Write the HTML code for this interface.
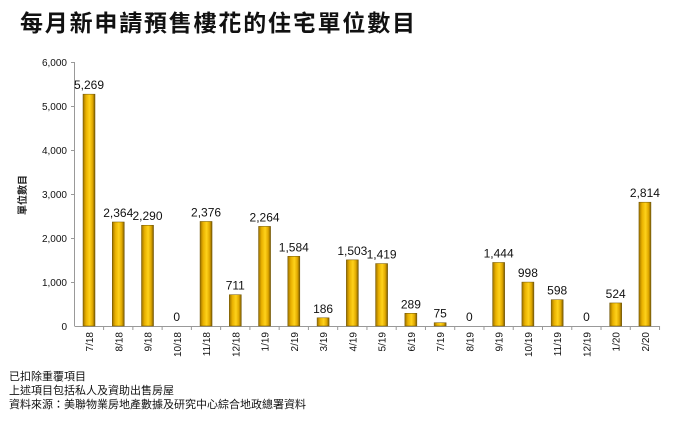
<!DOCTYPE html>
<html><head><meta charset="utf-8"><style>
body{margin:0;width:700px;height:426px;background:#fff;overflow:hidden}
svg text{font-family:"Liberation Sans","Noto Sans CJK TC",sans-serif}
</style></head><body>
<svg width="700" height="426" xmlns="http://www.w3.org/2000/svg">
<defs><linearGradient id="g" x1="0" x2="1" y1="0" y2="0">
<stop offset="0" stop-color="#9a7000"/><stop offset="0.25" stop-color="#e8b000"/><stop offset="0.55" stop-color="#ffd21a"/><stop offset="0.8" stop-color="#e0a800"/><stop offset="1" stop-color="#7a5a00"/></linearGradient></defs>
<text x="20" y="31" font-size="23" font-weight="bold" fill="#111" letter-spacing="1.8">每月新申請預售樓花的住宅單位數目</text>
<text transform="translate(26,195) rotate(-90)" font-size="10" text-anchor="middle" font-weight="bold" fill="#222">單位數目</text>
<g font-size="10" fill="#111" text-anchor="end">
<text x="67" y="66">6,000</text><text x="67" y="110">5,000</text><text x="67" y="154">4,000</text><text x="67" y="198">3,000</text><text x="67" y="242">2,000</text><text x="67" y="286">1,000</text><text x="67" y="330">0</text></g>
<g stroke="#999" stroke-width="1">
<line x1="74.5" y1="62" x2="74.5" y2="326"/><line x1="74.5" y1="326.5" x2="660" y2="326.5"/>
<line x1="71" y1="62.5" x2="75" y2="62.5"/><line x1="71" y1="106.5" x2="75" y2="106.5"/><line x1="71" y1="150.5" x2="75" y2="150.5"/><line x1="71" y1="194.5" x2="75" y2="194.5"/><line x1="71" y1="238.5" x2="75" y2="238.5"/><line x1="71" y1="282.5" x2="75" y2="282.5"/>
</g>
<g id="bars"></g>
</svg>
<script>
var d=[["7/18",5269],["8/18",2364],["9/18",2290],["10/18",0],["11/18",2376],["12/18",711],["1/19",2264],["2/19",1584],["3/19",186],["4/19",1503],["5/19",1419],["6/19",289],["7/19",75],["8/19",0],["9/19",1444],["10/19",998],["11/19",598],["12/19",0],["1/20",524],["2/20",2814]];
var s="";
d.forEach(function(e,i){var c=89+29.26*i,h=e[1]*0.044,y=326-h;
if(h>0)s+='<rect x="'+(c-6)+'" y="'+y+'" width="12" height="'+h+'" fill="url(#g)" stroke="#6b5000" stroke-width="0.5"/>';
s+='<text x="'+c+'" y="'+(y-5)+'" font-size="12" text-anchor="middle" fill="#111">'+e[1].toLocaleString('en-US')+'</text>';
s+='<line x1="'+(c+14.6)+'" y1="326" x2="'+(c+14.6)+'" y2="330" stroke="#999"/>';
s+='<text transform="translate('+(c+4)+',332) rotate(-90)" font-size="10" text-anchor="end" fill="#111">'+e[0]+'</text>';});
document.getElementById("bars").innerHTML=s;
</script>
<div style="position:absolute;left:9px;top:370px;font:11px 'Liberation Sans','Noto Sans CJK TC',sans-serif;line-height:14px;color:#111">已扣除重覆項目<br>上述項目包括私人及資助出售房屋<br>資料來源：美聯物業房地產數據及研究中心綜合地政總署資料</div>
</body></html>
